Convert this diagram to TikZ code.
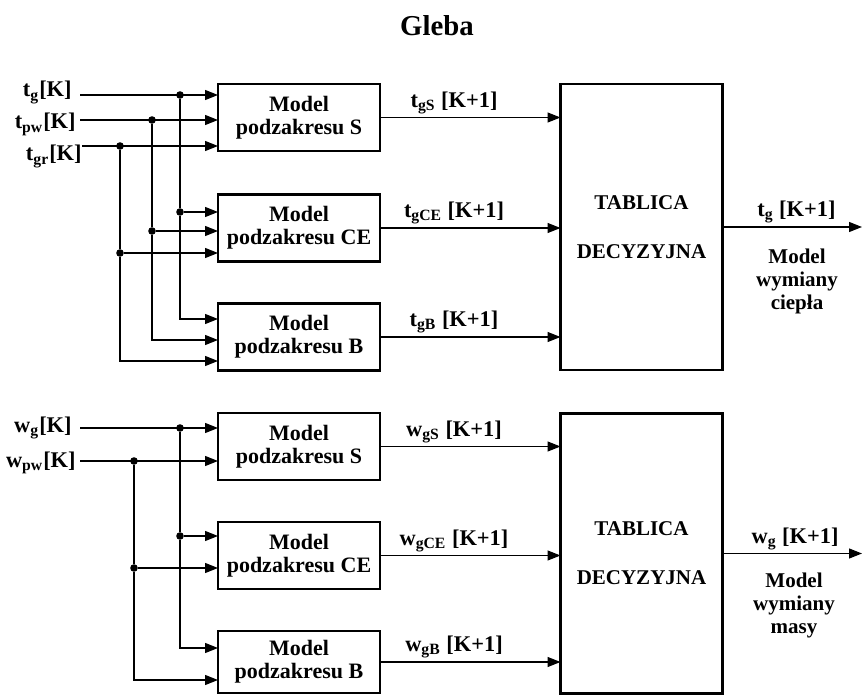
\documentclass[tikz,border=0pt]{standalone}
\usepackage{fontspec}
\setmainfont{Liberation Serif}
\usetikzlibrary{arrows.meta}

\begin{document}
\begin{tikzpicture}[x=0.5pt, y=-0.5pt,
        font=\fontsize{10.5}{11.5}\selectfont\bfseries,
        blok/.style={draw, line width=1.15pt, minimum width=81pt,
                     minimum height=33.5pt, inner sep=0pt, outer sep=0pt,
                     align=center},
        lab/.style={font=\fontsize{11.2}{12}\selectfont\bfseries, inner sep=0pt},
        wire/.style={line width=0.6pt},
        conn/.style={wire, -{Triangle[length=6.5pt, width=5pt]}},
        dot/.style={circle, fill, inner sep=0pt, minimum size=3.8pt}]
    \useasboundingbox (0,0) rectangle (862,695);
    \node[font=\fontsize{14.4}{16}\selectfont\bfseries, anchor=base] (tytul) at (437,36) {Gleba};

    % bloki -- temperatura
    \node[blok, font=\fontsize{11}{11.5}\selectfont\bfseries] (S)  at (299,117.5) {Model\\podzakresu S};
    \node[blok, font=\fontsize{11}{11.5}\selectfont\bfseries] (CE) at (299,228)   {Model\\podzakresu CE};
    \node[blok, font=\fontsize{11}{11.5}\selectfont\bfseries] (B)  at (299,337)   {Model\\podzakresu B};
    \node[blok, minimum height=143pt] (T1) at (641.5,227)
        {TABLICA\\[13pt]DECYZYJNA};
    % bloki -- wilgotnosc
    \node[blok, font=\fontsize{11}{11.5}\selectfont\bfseries] (S2)  at (299,446.5) {Model\\podzakresu S};
    \node[blok, font=\fontsize{11}{11.5}\selectfont\bfseries] (CE2) at (299,555.5) {Model\\podzakresu CE};
    \node[blok, font=\fontsize{11}{11.5}\selectfont\bfseries, minimum height=31pt] (B2) at (299,662) {Model\\podzakresu B};
    \node[blok, minimum height=140pt] (T2) at (641.5,553.5)
        {TABLICA\\[13pt]DECYZYJNA};

    % wejscia
    \node[lab, anchor=base east] (tgl)  at (72,97)  {t\textsubscript{g}[K]};
    \node[lab, anchor=base east] (tpwl) at (76,129) {t\textsubscript{pw}[K]};
    \node[lab, anchor=base east] (tgrl) at (82,161) {t\textsubscript{gr}[K]};
    \node[lab, anchor=base east] (wgl)  at (72,432) {w\textsubscript{g}[K]};
    \node[lab, anchor=base east] (wpwl) at (76,467) {w\textsubscript{pw}[K]};
    \coordinate (tg)  at (80,95);
    \coordinate (tpw) at (80,120);
    \coordinate (tgr) at (82,146);
    \coordinate (wg)  at (80,428);
    \coordinate (wpw) at (80,461);

    \foreach \n/\s/\c/\b/\x/\yin/\yce/\yb in {tg/S/CE/B/180/95/212/319,
            tpw/S/CE/B/152/120/231/340, tgr/S/CE/B/120/146/253/361,
            wg/S2/CE2/B2/180/428/536/648, wpw/S2/CE2/B2/134/461/568/680} {
        \draw[conn] (\n) -- (\n -| \s.west);
        \node[dot] (\n-s) at (\x,\yin) {};
        \node[dot] (\n-ce) at (\x,\yce) {};
        \draw[wire] (\n-s) -- (\n-ce);
        \draw[conn] (\n-ce) -- (\n-ce -| \c.west);
        \draw[conn] (\n-ce) |- (\b.west |- 0,\yb);
    }

    % wyjscia modeli
    \foreach \m/\t/\l in {S/T1/t\textsubscript{gS}, CE/T1/t\textsubscript{gCE},
            B/T1/t\textsubscript{gB}, S2/T2/w\textsubscript{gS},
            CE2/T2/w\textsubscript{gCE}, B2/T2/w\textsubscript{gB}}
        \draw[conn] (\m.east) -- node[lab, above=1.5pt, pos=.41] {\l~[K+1]}
            (\m.east -| \t.west);

    % wyjscia tablic
    \coordinate (o1) at (862,227);
    \coordinate (o2) at (862,553.5);
    \draw[conn] (T1.east) -- node[lab, above=1.5pt, pos=.53] {t\textsubscript{g} [K+1]} (o1);
    \draw[conn] (T2.east) -- node[lab, above=1.5pt, pos=.52] {w\textsubscript{g} [K+1]} (o2);
    \node[align=center] (m1) at (797,281) {Model\\wymiany\\ciepła};
    \node[align=center] (m2) at (794,605) {Model\\wymiany\\masy};
\end{tikzpicture}
\end{document}
